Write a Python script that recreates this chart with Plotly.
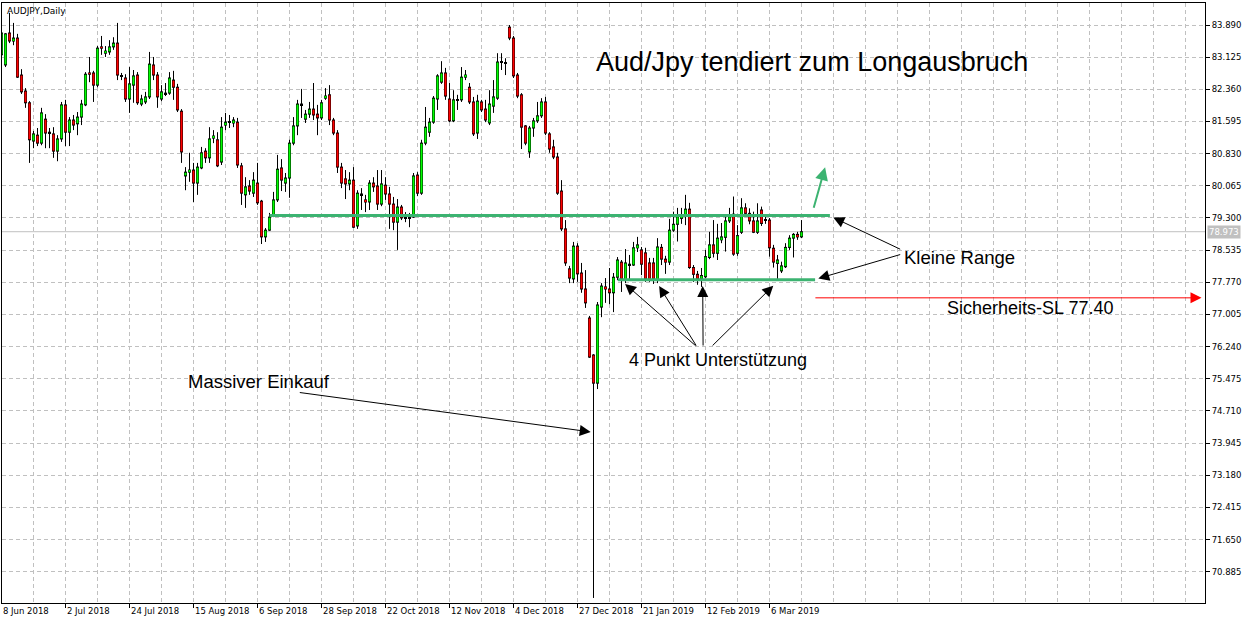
import plotly.graph_objects as go

# ---------------- data (AUDJPY daily) ----------------
opens = [83.18, 82.94, 83.70, 83.51, 83.58, 82.70, 82.32, 82.04, 81.13, 81.27,
         81.08, 81.65, 81.34, 81.30, 80.89, 81.18, 81.99, 81.34, 81.63, 81.54,
         81.70, 81.99, 82.75, 82.75, 82.46, 83.37, 83.22, 83.25, 83.37, 83.46,
         82.68, 82.63, 82.13, 82.46, 82.70, 82.01, 82.06, 82.18, 82.94, 82.70,
         82.13, 82.27, 82.27, 82.58, 82.41, 81.84, 80.30, 80.39, 80.44, 80.13,
         80.49, 80.89, 80.73, 81.20, 81.16, 80.63, 81.51, 81.58, 81.56, 81.58,
         80.54, 79.85, 80.06, 79.89, 80.13, 79.70, 78.85, 79.01, 79.37, 79.73,
         80.49, 80.13, 80.25, 81.08, 81.49, 82.01, 81.65, 81.77, 81.89, 81.77,
         81.68, 82.15, 82.23, 81.63, 81.32, 80.51, 80.23, 80.11, 80.20, 79.11,
         79.87, 79.73, 79.68, 80.13, 80.06, 79.63, 80.08, 79.87, 79.63, 79.20,
         79.56, 79.32, 79.32, 79.32, 80.32, 79.89, 81.08, 81.34, 81.58, 82.13,
         82.53, 82.75, 82.13, 81.61, 82.11, 82.11, 82.65, 82.41, 82.06, 81.32,
         82.06, 81.89, 81.56, 81.96, 82.15, 83.01, 82.99, 83.84, 83.58, 82.70,
         82.23, 81.49, 80.87, 81.44, 81.61, 81.73, 82.06, 81.30, 80.99, 80.75,
         79.94, 79.04, 78.09, 77.85, 78.63, 77.99, 77.61, 76.92, 76.04, 75.37,
         77.18, 77.66, 77.61, 77.52, 77.89, 78.25, 77.82, 78.20, 78.18, 78.59,
         78.54, 78.47, 78.23, 78.23, 77.82, 78.60, 78.32, 78.25, 79.01, 79.15,
         79.29, 79.35, 79.51, 78.12, 77.96, 77.85, 77.90, 78.36, 78.66, 78.46,
         78.78, 78.84, 79.23, 79.39, 78.46, 78.96, 79.54, 79.41, 79.23, 78.96,
         79.49, 79.25, 79.25, 78.58, 78.22, 78.04, 78.14, 78.60, 78.82, 78.91,
         78.85]
highs = [83.77, 83.70, 84.18, 83.94, 83.68, 82.84, 82.39, 82.08, 81.37, 81.44,
         81.92, 81.77, 81.44, 81.46, 81.27, 82.06, 82.11, 81.70, 81.75, 81.82,
         82.11, 82.77, 83.13, 82.80, 83.39, 83.63, 83.39, 83.53, 83.60, 83.94,
         82.75, 82.72, 82.89, 82.82, 82.77, 82.23, 82.30, 83.25, 83.13, 82.77,
         82.46, 82.51, 82.77, 82.80, 82.49, 81.89, 80.51, 80.85, 80.61, 80.61,
         80.99, 80.96, 81.46, 81.39, 81.34, 81.70, 81.80, 81.75, 81.70, 81.68,
         80.61, 80.27, 80.20, 80.39, 80.61, 79.73, 79.06, 79.42, 79.92, 80.80,
         80.70, 80.37, 81.16, 81.70, 82.11, 82.37, 81.87, 82.06, 82.51, 81.99,
         82.11, 82.39, 82.46, 81.68, 81.39, 80.61, 80.44, 80.39, 80.51, 79.96,
         80.01, 79.85, 80.20, 80.27, 80.44, 80.44, 80.27, 80.04, 79.80, 79.75,
         79.61, 79.44, 79.42, 80.37, 80.39, 81.16, 81.94, 81.68, 82.20, 82.72,
         83.03, 82.87, 82.51, 82.34, 82.23, 82.89, 82.82, 82.51, 82.18, 82.23,
         82.11, 82.11, 82.34, 82.58, 83.22, 83.22, 83.10, 83.89, 83.63, 82.75,
         82.27, 81.51, 81.49, 81.68, 82.06, 82.15, 82.18, 81.34, 81.16, 80.85,
         80.20, 79.25, 78.16, 78.73, 78.70, 78.23, 78.06, 76.97, 76.06, 77.30,
         77.75, 77.87, 78.11, 77.99, 78.37, 78.30, 78.56, 78.42, 78.73, 78.85,
         78.61, 78.59, 78.35, 78.35, 78.82, 78.68, 78.40, 79.28, 79.45, 79.54,
         79.54, 79.85, 79.66, 78.18, 78.04, 78.11, 78.54, 78.97, 79.25, 79.16,
         79.18, 79.37, 79.54, 79.81, 79.13, 79.77, 79.65, 79.53, 79.45, 79.65,
         79.57, 79.33, 79.30, 78.66, 78.42, 78.26, 78.70, 78.89, 78.94, 78.97,
         79.25]
lows = [83.10, 82.89, 83.46, 83.41, 82.63, 82.25, 81.92, 80.61, 80.96, 81.01,
        81.03, 80.96, 80.96, 80.73, 80.65, 81.11, 81.01, 81.01, 81.39, 81.27,
        81.51, 81.96, 82.53, 82.06, 82.41, 83.18, 83.13, 83.18, 83.30, 82.58,
        82.58, 82.06, 81.80, 82.04, 81.99, 81.96, 82.01, 82.13, 82.58, 81.92,
        82.08, 82.20, 82.23, 82.11, 81.82, 80.61, 79.96, 80.16, 79.68, 79.85,
        80.46, 80.61, 80.61, 81.08, 80.51, 80.56, 81.39, 81.44, 81.46, 80.49,
        79.61, 79.54, 79.85, 79.80, 79.61, 78.68, 78.73, 78.99, 79.32, 79.68,
        79.94, 79.92, 79.78, 81.03, 81.27, 81.68, 81.56, 81.68, 81.63, 81.27,
        81.63, 82.11, 81.51, 81.27, 80.37, 80.01, 79.75, 79.96, 79.06, 79.04,
        79.49, 79.44, 79.49, 79.92, 79.49, 79.58, 79.73, 79.04, 79.01, 78.54,
        79.25, 79.20, 79.08, 79.30, 79.82, 79.85, 81.03, 81.23, 81.54, 81.87,
        82.49, 82.11, 81.58, 81.58, 81.87, 82.06, 82.58, 82.01, 81.25, 81.18,
        81.82, 81.58, 81.51, 81.80, 82.11, 82.82, 82.70, 83.53, 82.63, 82.15,
        80.94, 81.03, 80.73, 81.23, 81.56, 81.68, 81.27, 80.85, 80.70, 79.85,
        78.99, 78.16, 77.75, 77.75, 77.78, 77.52, 77.16, 75.97, 70.26, 75.23,
        76.94, 77.28, 77.25, 77.06, 77.82, 77.54, 77.75, 77.82, 78.16, 78.49,
        77.94, 77.78, 77.78, 77.73, 77.75, 78.18, 77.97, 78.18, 78.97, 78.74,
        79.16, 79.13, 78.09, 77.78, 77.71, 77.66, 77.87, 78.32, 78.36, 78.30,
        78.70, 78.50, 79.18, 78.40, 78.40, 78.92, 79.35, 79.15, 78.94, 78.92,
        79.11, 79.16, 78.38, 78.12, 77.82, 77.99, 78.11, 78.54, 78.36, 78.78,
        78.82]
closes = [83.70, 83.68, 83.51, 83.58, 82.65, 82.30, 82.04, 81.16, 81.30, 81.08,
          81.80, 81.32, 81.33, 80.89, 81.18, 81.99, 81.34, 81.63, 81.51, 81.70,
          82.01, 82.72, 82.72, 82.46, 83.34, 83.34, 83.27, 83.37, 83.46, 82.70,
          82.67, 82.13, 82.49, 82.68, 82.04, 82.13, 82.18, 82.96, 82.70, 82.18,
          82.30, 82.25, 82.63, 82.41, 81.87, 80.87, 80.39, 80.44, 80.13, 80.51,
          80.85, 80.73, 81.18, 81.25, 80.54, 81.46, 81.58, 81.59, 81.63, 80.56,
          79.89, 80.04, 79.94, 80.20, 79.66, 78.85, 79.01, 79.32, 79.73, 80.46,
          80.20, 80.25, 81.08, 81.49, 82.01, 81.99, 81.77, 81.89, 81.75, 81.68,
          82.04, 82.20, 81.63, 81.32, 80.51, 80.13, 80.11, 80.20, 79.08, 79.89,
          79.85, 79.68, 80.13, 80.04, 79.63, 80.11, 79.87, 79.63, 79.20, 79.56,
          79.30, 79.31, 79.31, 80.30, 79.89, 81.08, 81.46, 81.58, 82.15, 82.68,
          82.75, 82.20, 81.61, 82.11, 82.10, 82.65, 82.70, 82.06, 81.30, 82.08,
          81.87, 81.63, 82.01, 82.18, 83.01, 83.00, 82.98, 83.58, 82.68, 82.20,
          81.46, 81.08, 81.44, 81.61, 81.73, 82.06, 81.32, 80.94, 80.75, 79.89,
          79.04, 78.23, 77.87, 78.63, 77.97, 77.61, 77.28, 75.99, 75.37, 77.23,
          77.68, 77.61, 77.52, 77.89, 78.30, 77.85, 78.23, 78.19, 78.59, 78.66,
          78.20, 77.85, 77.82, 77.85, 78.61, 78.32, 78.25, 79.01, 79.15, 79.33,
          79.35, 79.51, 78.12, 77.96, 77.85, 77.93, 78.38, 78.66, 78.46, 78.82,
          78.85, 79.23, 79.33, 78.44, 78.88, 79.54, 79.41, 79.23, 78.96, 79.23,
          79.17, 79.24, 78.59, 78.25, 78.30, 78.16, 78.60, 78.82, 78.91, 78.85,
          78.973]
bars = list(range(len(closes)))

price_ticks = [83.890, 83.125, 82.360, 81.595, 80.830, 80.065, 79.300, 78.535,
               77.770, 77.005, 76.240, 75.475, 74.710, 73.945, 73.180, 72.415,
               71.650, 70.885]
date_bars = [0, 16, 32, 48, 64, 80, 96, 112, 128, 144, 160, 176, 192]
date_labels = ['8 Jun 2018', '2 Jul 2018', '24 Jul 2018', '15 Aug 2018',
               '6 Sep 2018', '28 Sep 2018', '22 Oct 2018', '12 Nov 2018',
               '4 Dec 2018', '27 Dec 2018', '21 Jan 2019', '12 Feb 2019',
               '6 Mar 2019']

last_price = 78.973
resistance = 79.36
support = 77.83
stop_loss = 77.40

# ---------------- figure ----------------
GRID = '#c0c0c0'
DASH = '4px,3px'
TICKFONT = dict(family='DejaVu Sans, Tahoma, sans-serif', size=8.5, color='black')
ANNFONT = 'Liberation Sans, Arial, sans-serif'
SEA = '#3cb371'
BULL, BEAR = '#00ff00', '#ff0000'
X_MIN, X_MAX = 0.125, 300.875
Y_MIN, Y_MAX = 70.140, 84.414
PX = (Y_MAX - Y_MIN) / 600.0   # price per screen pixel (plot is 600 px tall)

body_lo = [min(o, c) for o, c in zip(opens, closes)]
body_hi = [max(o, c) for o, c in zip(opens, closes)]
# outer (black) body: at least one pixel tall so dojis show as a dash
out_base = [lo - 0.5 * PX for lo in body_lo]
out_len = [hi - lo + PX for lo, hi in zip(body_lo, body_hi)]
# inner coloured fill, inset by one pixel
in_base = [lo + 0.5 * PX for lo in body_lo]
in_len = [max(hi - lo - PX, 0.0) for lo, hi in zip(body_lo, body_hi)]
body_col = [BULL if c >= o else BEAR for o, c in zip(opens, closes)]

# wicks only outside the body (bars are rendered beneath line traces)
wick_x, wick_y = [], []
for b, h, l, lo, hi in zip(bars, highs, lows, body_lo, body_hi):
    wick_x += [b, b, None, b, b, None]
    wick_y += [l, lo, None, hi, h, None]

fig = go.Figure()
fig.add_trace(go.Bar(x=bars, y=out_len, base=out_base, width=0.75,
                     marker=dict(color='black', line=dict(width=0)),
                     hoverinfo='skip', showlegend=False))
fig.add_trace(go.Bar(x=bars, y=in_len, base=in_base, width=0.5,
                     marker=dict(color=body_col, line=dict(width=0)),
                     hoverinfo='skip', showlegend=False))
fig.add_trace(go.Scatter(x=wick_x, y=wick_y, mode='lines',
                         line=dict(color='black', width=1),
                         hoverinfo='skip', showlegend=False))

shapes = [
    dict(type='line', xref='paper', x0=0, x1=1, yref='y', y0=last_price, y1=last_price,
         line=dict(color=GRID, width=1), layer='below'),
    dict(type='line', xref='x', x0=67, x1=207.1, yref='y', y0=resistance, y1=resistance,
         line=dict(color=SEA, width=3), layer='above'),
    dict(type='line', xref='x', x0=154.1, x1=203.4, yref='y', y0=support, y1=support,
         line=dict(color=SEA, width=3), layer='above'),
]

annotations = []
# date labels (left aligned at their tick, as in MetaTrader)
for b, lab in zip(date_bars, date_labels):
    annotations.append(dict(x=max(b, X_MIN + 0.01), xref='x', y=0, yref='paper', text=lab,
                            showarrow=False, xanchor='left', yanchor='top',
                            xshift=-1, yshift=-1, font=TICKFONT))
# chart caption
annotations.append(dict(x=0, xref='paper', y=1, yref='paper', text='AUDJPY,Daily',
                        showarrow=False, xanchor='left', yanchor='top', xshift=3, yshift=-1,
                        font=dict(family=TICKFONT['family'], size=9, color='black')))
# current price tag
annotations.append(dict(x=1, xref='paper', y=last_price, yref='y', text='78.973',
                        showarrow=False, xanchor='left', yanchor='middle', xshift=2,
                        bgcolor=GRID, borderpad=1,
                        font=dict(family=TICKFONT['family'], size=8.5, color='white')))

def txt(x, y, s, size):
    annotations.append(dict(x=x, y=y, xref='x', yref='y', text=s, showarrow=False,
                            xanchor='left', yanchor='middle',
                            font=dict(family=ANNFONT, size=size, color='black')))

txt(148.0, 83.01, 'Aud/Jpy tendiert zum Longausbruch', 27)
txt(225.2, 78.37, 'Kleine Range', 18.5)
txt(235.9, 77.17, 'Sicherheits-SL 77.40', 18)
txt(46.2, 75.42, 'Massiver Einkauf', 18.5)
txt(156.3, 75.92, '4 Punkt Unterstützung', 18)

def arrow(x0, y0, x1, y1, color='black', width=1, size=2.2):
    annotations.append(dict(ax=x0, ay=y0, axref='x', ayref='y', x=x1, y=y1,
                            xref='x', yref='y', text='', showarrow=True,
                            arrowhead=2, arrowsize=size, arrowwidth=width,
                            arrowcolor=color, standoff=0, startstandoff=0))

arrow(225.05, 78.54, 207.95, 79.31)
arrow(225.05, 78.44, 204.2, 77.86)
arrow(74.2, 75.152, 147.3, 74.21)
arrow(173.9, 76.23, 155.9, 77.73)
arrow(173.9, 76.23, 164.4, 77.68)
arrow(175.4, 76.23, 175.3, 77.68)
arrow(177.4, 76.23, 192.95, 77.69)
arrow(202.95, 79.506, 205.9, 80.505, color=SEA, width=2, size=1.3)
arrow(203.1, stop_loss, 300.0, stop_loss, color='#ff0000', width=1, size=2.2)

fig.update_layout(
    width=1253, height=624,
    margin=dict(l=2, r=48, t=3, b=21),
    paper_bgcolor='white', plot_bgcolor='white',
    showlegend=False, barmode='overlay',
    shapes=shapes, annotations=annotations,
    xaxis=dict(range=[X_MIN, X_MAX], tickmode='array', tickvals=date_bars,
               showticklabels=False, ticks='outside', ticklen=4, tickcolor='black',
               showgrid=True, gridcolor=GRID, griddash=DASH, gridwidth=1,
               minor=dict(tickmode='linear', tick0=0, dtick=8, showgrid=True,
                          gridcolor=GRID, griddash=DASH, gridwidth=1, ticks=''),
               showline=True, linecolor='black', linewidth=1, mirror=True,
               zeroline=False, fixedrange=True),
    yaxis=dict(side='right', range=[Y_MIN, Y_MAX], tickmode='array',
               tickvals=price_ticks, ticktext=['%.3f' % v for v in price_ticks],
               ticks='outside', ticklen=4, tickcolor='black', tickfont=TICKFONT,
               showgrid=True, gridcolor=GRID, griddash=DASH, gridwidth=1,
               showline=True, linecolor='black', linewidth=1, mirror=True,
               zeroline=False, fixedrange=True),
)

post = "document.body.style.margin='0';document.body.style.overflow='hidden';"
fig.write_html("out.html", config={'displayModeBar': False}, post_script=post)
